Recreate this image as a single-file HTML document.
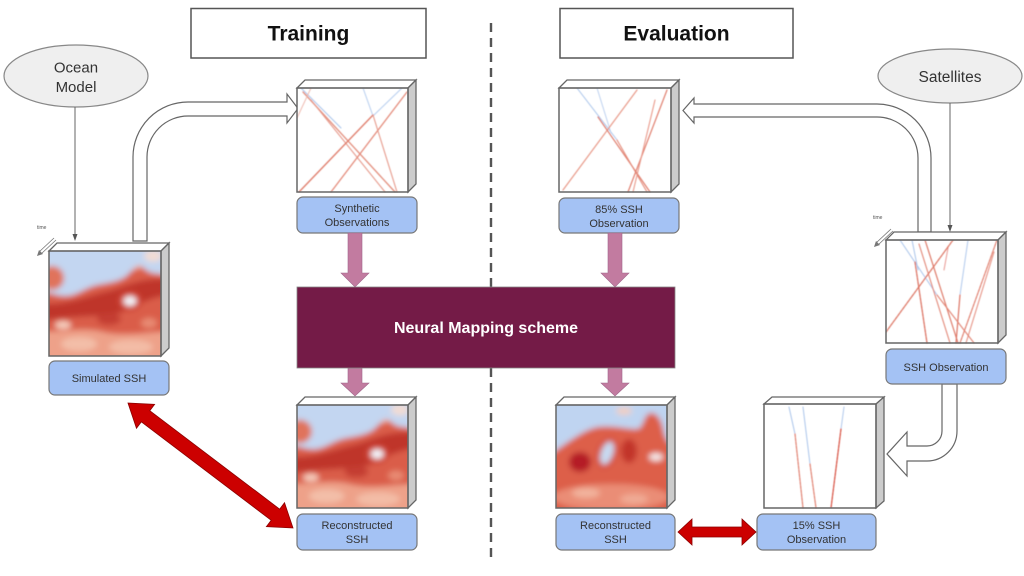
<!DOCTYPE html>
<html><head><meta charset="utf-8"><style>
html,body{margin:0;padding:0;background:#fff;}
svg{display:block;font-family:"Liberation Sans",Arial,sans-serif;}
</style></head><body>
<svg width="1024" height="576" viewBox="0 0 1024 576" xmlns="http://www.w3.org/2000/svg">
<defs>
 <filter id="bl" x="-20%" y="-20%" width="140%" height="140%"><feGaussianBlur stdDeviation="3"/></filter>
 <filter id="bl2" x="-20%" y="-20%" width="140%" height="140%"><feGaussianBlur stdDeviation="0.5"/></filter>
 <clipPath id="c1"><rect x="0" y="0" width="112" height="105"/></clipPath>
 <clipPath id="c2"><rect x="0" y="0" width="111" height="103"/></clipPath>
 <g id="simheat">
  <g clip-path="url(#c1)"><g filter="url(#bl)">
   <rect x="-10" y="-10" width="132" height="125" fill="#eea189"/>
   <path d="M-10,40 C20,44 40,32 60,28 C80,22 92,12 122,18 L122,80 C90,82 70,86 50,80 C30,76 15,82 -10,80 Z" fill="#da5d48"/>
   <path d="M-10,52 C15,56 40,44 60,40 C76,36 90,26 122,28 L122,44 C96,46 86,58 70,62 C50,66 30,64 -10,70 Z" fill="#bf342b"/>
   <ellipse cx="60" cy="68" rx="12" ry="6" fill="#c43d30"/>
   <path d="M-10,-10 H122 V24 C108,22 100,24 94,16 C88,10 82,22 76,26 C68,31 58,32 48,34 C35,37 28,45 16,45 C8,45 3,42 -10,40 Z" fill="#c3d6f1"/>
   <ellipse cx="104" cy="5" rx="9" ry="6" fill="#f1dcd4"/>
   <circle cx="3" cy="27" r="12" fill="#e0735c"/>
   <ellipse cx="81" cy="50" rx="12" ry="10" fill="#cf4434"/>
   <ellipse cx="81" cy="50" rx="6.5" ry="5" fill="#f3f5fb"/>
   <ellipse cx="14" cy="74" rx="8" ry="4" fill="#f6cdbd"/>
   <ellipse cx="30" cy="93" rx="18" ry="7" fill="#f3bea8"/>
   <ellipse cx="82" cy="96" rx="22" ry="7" fill="#f3bca6"/>
   <ellipse cx="100" cy="72" rx="8" ry="5" fill="#e88b73"/>
  </g></g>
 </g>
</defs>

<!-- dashed divider -->
<line x1="491" y1="23" x2="491" y2="562" stroke="#555" stroke-width="2.4" stroke-dasharray="9 6"/>

<!-- Title boxes -->
<rect x="191" y="8.5" width="235" height="49.5" fill="#fff" stroke="#555" stroke-width="1.5"/>
<text x="308.5" y="40.5" font-size="21" font-weight="bold" text-anchor="middle" fill="#111">Training</text>
<rect x="560" y="8.5" width="233" height="49.5" fill="#fff" stroke="#555" stroke-width="1.5"/>
<text x="676.5" y="40.5" font-size="21" font-weight="bold" text-anchor="middle" fill="#111">Evaluation</text>

<!-- Ellipses -->
<ellipse cx="76" cy="76" rx="72" ry="31" fill="#efefef" stroke="#888" stroke-width="1.2"/>
<text x="76" y="72.5" font-size="15" text-anchor="middle" fill="#333">Ocean</text>
<text x="76" y="92" font-size="15" text-anchor="middle" fill="#333">Model</text>
<ellipse cx="950" cy="76" rx="72" ry="27" fill="#efefef" stroke="#888" stroke-width="1.2"/>
<text x="950" y="82" font-size="15.5" text-anchor="middle" fill="#333">Satellites</text>

<!-- thin arrows -->
<line x1="75" y1="107" x2="75" y2="238" stroke="#666" stroke-width="1"/>
<path d="M72.5,234 L75,241 L77.5,234 Z" fill="#555"/>
<line x1="950" y1="103" x2="950" y2="229" stroke="#666" stroke-width="1"/>
<path d="M947.5,225 L950,232 L952.5,225 Z" fill="#555"/>

<!-- hollow arrows -->
<path d="M133,241 L133,157 A55,55 0 0 1 188,102 L287,102 L287,94 L298,108.5 L287,123 L287,116 L188,116 A41,41 0 0 0 147,157 L147,241 Z" fill="#fff" stroke="#666" stroke-width="1.2"/>
<path d="M931,232 L931,158 A54,54 0 0 0 877,104 L694,104 L694,98 L683,110.5 L694,123 L694,117 L877,117 A41,41 0 0 1 918,158 L918,232 Z" fill="#fff" stroke="#666" stroke-width="1.2"/>
<path d="M942,384 L957,384 L957,431 A30,30 0 0 1 927,461 L907,461 L907,476 L887,454 L907,432 L907,446 L927,446 A15,15 0 0 0 942,431 Z" fill="#fff" stroke="#666" stroke-width="1.2"/>

<!-- time markers -->
<text x="37" y="229" font-size="5" fill="#555">time</text>
<line x1="54" y1="238" x2="39" y2="252" stroke="#777" stroke-width="0.8"/>
<line x1="56" y1="240" x2="41" y2="254" stroke="#777" stroke-width="0.8"/>
<path d="M37,256 L39,250 L43,254 Z" fill="#777"/>
<text x="873" y="219" font-size="5" fill="#555">time</text>
<line x1="891" y1="229" x2="876" y2="243" stroke="#777" stroke-width="0.8"/>
<line x1="893" y1="231" x2="878" y2="245" stroke="#777" stroke-width="0.8"/>
<path d="M874,247 L876,241 L880,245 Z" fill="#777"/>

<!-- CUBES -->
<!-- Simulated -->
<g transform="translate(49,251)">
 <use href="#simheat"/>
 <path d="M0,0 L8,-8 L120,-8 L112,0 Z" fill="#fff" stroke="#666" stroke-width="1.3"/>
 <path d="M112,0 L120,-8 L120,97 L112,105 Z" fill="#ccc" stroke="#666" stroke-width="1.3"/>
 <rect x="0" y="0" width="112" height="105" fill="none" stroke="#666" stroke-width="1.5"/>
</g>
<!-- Reconstructed training -->
<g transform="translate(297,405)">
 <g transform="scale(0.99,0.98)"><use href="#simheat"/></g>
 <path d="M0,0 L8,-8 L119,-8 L111,0 Z" fill="#fff" stroke="#666" stroke-width="1.3"/>
 <path d="M111,0 L119,-8 L119,95 L111,103 Z" fill="#ccc" stroke="#666" stroke-width="1.3"/>
 <rect x="0" y="0" width="111" height="103" fill="none" stroke="#666" stroke-width="1.5"/>
</g>
<!-- Reconstructed eval -->
<g transform="translate(556,405)">
 <g clip-path="url(#c2)"><g filter="url(#bl)">
  <rect x="-10" y="-10" width="131" height="123" fill="#dd5e49"/>
  <ellipse cx="55" cy="92" rx="58" ry="13" fill="#ea8d76"/>
  <ellipse cx="30" cy="88" rx="14" ry="5" fill="#f2b29c"/>
  <ellipse cx="78" cy="94" rx="14" ry="5" fill="#f0aa94"/>
  <path d="M-10,-10 H121 V40 C114,40 110,36 108,28 C106,16 102,8 95,8 C88,8 88,22 82,24 C68,24 58,20 42,22 C26,25 12,38 -10,52 Z" fill="#bfd4f1"/>
  <ellipse cx="68" cy="6" rx="8" ry="4" fill="#f1cfc3"/>
  <ellipse cx="24" cy="57" rx="11" ry="10" fill="#b51d28"/>
  <ellipse cx="73" cy="46" rx="8" ry="12" fill="#c2352c"/>
  <ellipse cx="51" cy="48" rx="10" ry="16" transform="rotate(20 51 48)" fill="#d44e3c"/>
  <ellipse cx="51" cy="48" rx="6" ry="12" transform="rotate(20 51 48)" fill="#c8daf2"/>
  <ellipse cx="100" cy="52" rx="7" ry="4" fill="#f4e8e8"/>
 </g></g>
 <path d="M0,0 L8,-8 L119,-8 L111,0 Z" fill="#fff" stroke="#666" stroke-width="1.3"/>
 <path d="M111,0 L119,-8 L119,95 L111,103 Z" fill="#ccc" stroke="#666" stroke-width="1.3"/>
 <rect x="0" y="0" width="111" height="103" fill="none" stroke="#666" stroke-width="1.5"/>
</g>

<!-- Synthetic obs -->
<g transform="translate(297,88)">
 <rect x="0" y="0" width="111" height="104" fill="#fff"/>
 <g clip-path="url(#c1)" fill="none" stroke-linecap="round" filter="url(#bl2)">
  <line x1="4" y1="0" x2="44" y2="40" stroke="#a9c4ea" stroke-width="1"/>
  <line x1="66" y1="0" x2="76" y2="28" stroke="#b5cdee" stroke-width="1"/>
  <line x1="105" y1="0" x2="76" y2="28" stroke="#b5cdee" stroke-width="1"/>
  <line x1="6" y1="4" x2="98" y2="104" stroke="#e3907f" stroke-width="1.3"/>
  <line x1="14" y1="12" x2="88" y2="104" stroke="#e69a8b" stroke-width="1.1"/>
  <line x1="76" y1="27" x2="2" y2="104" stroke="#e0806f" stroke-width="1.4"/>
  <line x1="110" y1="4" x2="34" y2="104" stroke="#e48c7c" stroke-width="1.3"/>
  <line x1="76" y1="27" x2="100" y2="104" stroke="#e69a8b" stroke-width="1.1"/>
  <line x1="0" y1="30" x2="14" y2="0" stroke="#eeb6ab" stroke-width="0.9"/>
 </g>
 <path d="M0,0 L8,-8 L119,-8 L111,0 Z" fill="#fff" stroke="#666" stroke-width="1.3"/>
 <path d="M111,0 L119,-8 L119,96 L111,104 Z" fill="#ccc" stroke="#666" stroke-width="1.3"/>
 <rect x="0" y="0" width="111" height="104" fill="none" stroke="#666" stroke-width="1.5"/>
</g>

<!-- 85% obs -->
<g transform="translate(559,88)">
 <rect x="0" y="0" width="112" height="104" fill="#fff"/>
 <g clip-path="url(#c1)" fill="none" stroke-linecap="round" filter="url(#bl2)">
  <line x1="18" y1="0" x2="58" y2="52" stroke="#a9c4ea" stroke-width="1"/>
  <line x1="38" y1="0" x2="52" y2="45" stroke="#b7cdee" stroke-width="0.9"/>
  <line x1="4" y1="102" x2="78" y2="2" stroke="#e89a89" stroke-width="1.2"/>
  <line x1="39" y1="29" x2="91" y2="104" stroke="#e08070" stroke-width="1.2"/>
  <line x1="58" y1="52" x2="88" y2="104" stroke="#e48c7c" stroke-width="1.1"/>
  <line x1="108" y1="2" x2="69" y2="104" stroke="#e08070" stroke-width="1.2"/>
  <line x1="96" y1="12" x2="74" y2="104" stroke="#e99a8b" stroke-width="1.1"/>
 </g>
 <path d="M0,0 L8,-8 L120,-8 L112,0 Z" fill="#fff" stroke="#666" stroke-width="1.3"/>
 <path d="M112,0 L120,-8 L120,96 L112,104 Z" fill="#ccc" stroke="#666" stroke-width="1.3"/>
 <rect x="0" y="0" width="112" height="104" fill="none" stroke="#666" stroke-width="1.5"/>
</g>

<!-- SSH obs (right) -->
<g transform="translate(886,240)">
 <rect x="0" y="0" width="112" height="103" fill="#fff"/>
 <g clip-path="url(#c1)" fill="none" stroke-linecap="round" filter="url(#bl2)">
  <line x1="14" y1="0" x2="51" y2="55" stroke="#a9c4ea" stroke-width="1"/>
  <line x1="26" y1="0" x2="32" y2="30" stroke="#a9c4ea" stroke-width="1"/>
  <line x1="82" y1="0" x2="74" y2="55" stroke="#b1c9ec" stroke-width="1"/>
  <line x1="0" y1="92" x2="67" y2="0" stroke="#de7a69" stroke-width="1.3" stroke-dasharray="3 1"/>
  <line x1="29" y1="22" x2="41" y2="103" stroke="#dc7363" stroke-width="1.3" stroke-dasharray="3 1"/>
  <line x1="39" y1="0" x2="72" y2="103" stroke="#de7a69" stroke-width="1.2"/>
  <line x1="33" y1="4" x2="64" y2="103" stroke="#e28676" stroke-width="1.1"/>
  <line x1="74" y1="55" x2="70" y2="103" stroke="#dc7363" stroke-width="1.2"/>
  <line x1="111" y1="0" x2="74" y2="103" stroke="#e08070" stroke-width="1.2" stroke-dasharray="3 1"/>
  <line x1="108" y1="12" x2="80" y2="103" stroke="#e69385" stroke-width="1.1"/>
  <line x1="51" y1="55" x2="88" y2="103" stroke="#e28676" stroke-width="1.1"/>
  <line x1="62" y1="8" x2="58" y2="30" stroke="#d8514a" stroke-width="1" opacity="0.6"/>
 </g>
 <path d="M0,0 L8,-8 L120,-8 L112,0 Z" fill="#fff" stroke="#666" stroke-width="1.3"/>
 <path d="M112,0 L120,-8 L120,95 L112,103 Z" fill="#ccc" stroke="#666" stroke-width="1.3"/>
 <rect x="0" y="0" width="112" height="103" fill="none" stroke="#666" stroke-width="1.5"/>
</g>

<!-- 15% obs -->
<g transform="translate(764,404)">
 <rect x="0" y="0" width="112" height="104" fill="#fff"/>
 <g clip-path="url(#c1)" fill="none" stroke-linecap="round" filter="url(#bl2)">
  <line x1="25" y1="3" x2="31" y2="30" stroke="#a9c4ea" stroke-width="1"/>
  <line x1="31" y1="30" x2="39" y2="104" stroke="#e08070" stroke-width="1.2" stroke-dasharray="3 1"/>
  <line x1="39" y1="3" x2="46" y2="60" stroke="#a9c4ea" stroke-width="1"/>
  <line x1="46" y1="60" x2="52" y2="104" stroke="#e08070" stroke-width="1.2" stroke-dasharray="3 1"/>
  <line x1="80" y1="3" x2="77" y2="25" stroke="#b1c9ec" stroke-width="1"/>
  <line x1="77" y1="25" x2="67" y2="104" stroke="#d9584a" stroke-width="1.3" stroke-dasharray="3 1"/>
 </g>
 <path d="M0,0 L8,-7 L120,-7 L112,0 Z" fill="#fff" stroke="#666" stroke-width="1.3"/>
 <path d="M112,0 L120,-7 L120,97 L112,104 Z" fill="#ccc" stroke="#666" stroke-width="1.3"/>
 <rect x="0" y="0" width="112" height="104" fill="none" stroke="#666" stroke-width="1.5"/>
</g>

<!-- Labels -->
<g font-size="11" fill="#333" text-anchor="middle">
 <rect x="49" y="361" width="120" height="34" rx="6" fill="#a4c2f4" stroke="#777" stroke-width="1.2"/>
 <text x="109" y="382">Simulated SSH</text>
 <rect x="297" y="197" width="120" height="36" rx="6" fill="#a4c2f4" stroke="#777" stroke-width="1.2"/>
 <text x="357" y="212">Synthetic</text>
 <text x="357" y="226">Observations</text>
 <rect x="297" y="514" width="120" height="36" rx="6" fill="#a4c2f4" stroke="#777" stroke-width="1.2"/>
 <text x="357" y="529">Reconstructed</text>
 <text x="357" y="543">SSH</text>
 <rect x="559" y="198" width="120" height="35" rx="6" fill="#a4c2f4" stroke="#777" stroke-width="1.2"/>
 <text x="619" y="213">85% SSH</text>
 <text x="619" y="227">Observation</text>
 <rect x="556" y="514" width="119" height="36" rx="6" fill="#a4c2f4" stroke="#777" stroke-width="1.2"/>
 <text x="615.5" y="529">Reconstructed</text>
 <text x="615.5" y="543">SSH</text>
 <rect x="886" y="349" width="120" height="35" rx="6" fill="#a4c2f4" stroke="#777" stroke-width="1.2"/>
 <text x="946" y="371">SSH Observation</text>
 <rect x="757" y="514" width="119" height="36" rx="6" fill="#a4c2f4" stroke="#777" stroke-width="1.2"/>
 <text x="816.5" y="529">15% SSH</text>
 <text x="816.5" y="543">Observation</text>
</g>

<!-- Pink arrows -->
<g fill="#c27ba0" stroke="#a0668a" stroke-width="0.6">
 <path d="M348,233 L362,233 L362,273 L369,273 L355,287 L341,273 L348,273 Z"/>
 <path d="M348,368 L362,368 L362,383 L369,383 L355,396 L341,383 L348,383 Z"/>
 <path d="M608,233 L622,233 L622,273 L629,273 L615,287 L601,273 L608,273 Z"/>
 <path d="M608,368 L622,368 L622,383 L629,383 L615,396 L601,383 L608,383 Z"/>
</g>

<!-- NN box -->
<rect x="297" y="287" width="378" height="81" fill="#741b47" stroke="#888" stroke-width="0.8"/>
<text x="486" y="333" font-size="16" font-weight="bold" fill="#fff" text-anchor="middle">Neural Mapping scheme</text>

<!-- Red double arrows -->
<g fill="#cc0000" stroke="#8a0000" stroke-width="0.8">
 <path transform="translate(128,403) rotate(37.15)" d="M0,0 L22,-15 L22,-7 L185,-7 L185,-15 L207,0 L185,15 L185,7 L22,7 L22,15 Z"/>
 <path d="M678,532 L692,519 L692,527 L742,527 L742,519 L756,532 L742,545 L742,537 L692,537 L692,545 Z"/>
</g>
</svg>
</body></html>
